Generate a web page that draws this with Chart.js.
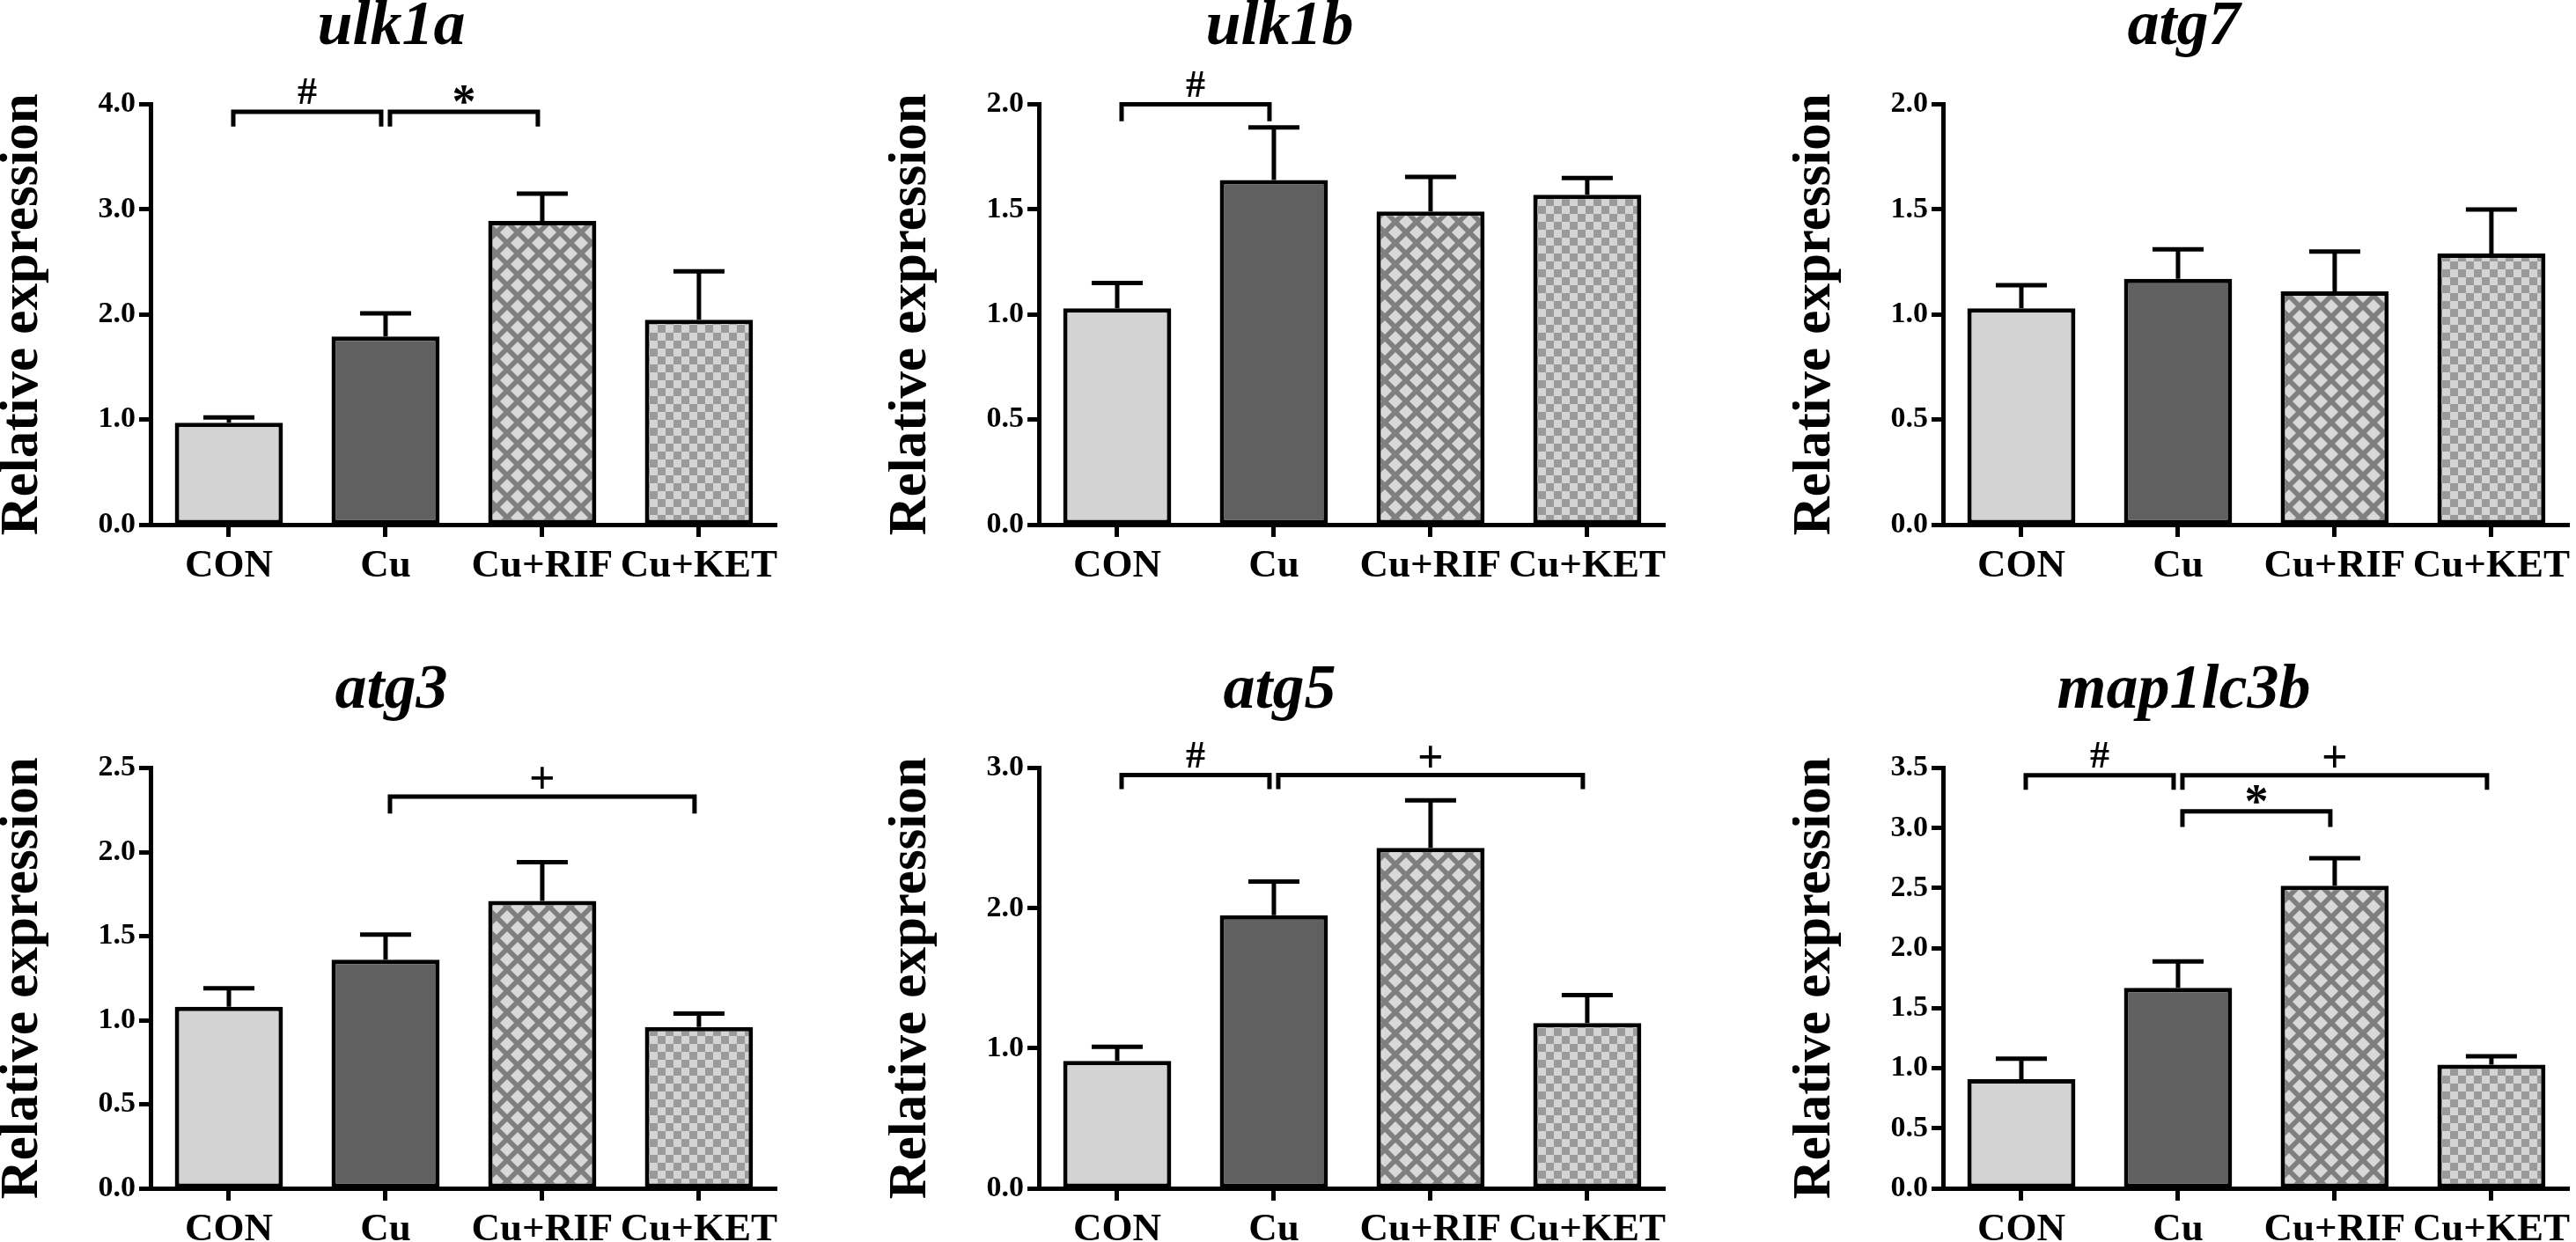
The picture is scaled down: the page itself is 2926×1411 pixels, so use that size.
<!DOCTYPE html>
<html lang="en">
<head>
  <meta charset="UTF-8">
  <title>Relative expression of autophagy genes</title>
  <script src="https://cdn.jsdelivr.net/npm/chart.js"></script>
  <style>
    html, body { margin: 0; padding: 0; background: #fff; overflow: hidden; }
    .panel { position: absolute; }
  </style>
</head>
<body>
  <div class="panel" style="left:0px;top:0px"><canvas id="c0" width="889" height="700"></canvas></div>
  <div class="panel" style="left:1009px;top:0px"><canvas id="c1" width="889" height="700"></canvas></div>
  <div class="panel" style="left:2036px;top:0px"><canvas id="c2" width="889" height="700"></canvas></div>
  <div class="panel" style="left:0px;top:754px"><canvas id="c3" width="889" height="700"></canvas></div>
  <div class="panel" style="left:1009px;top:754px"><canvas id="c4" width="889" height="700"></canvas></div>
  <div class="panel" style="left:2036px;top:754px"><canvas id="c5" width="889" height="700"></canvas></div>

  <script>
    // groups on the x axis
    const groups = ['CON', 'Cu', 'Cu+RIF', 'Cu+KET'];

    // mean and SEM per gene
    const ulk1aMean = [0.97, 1.79, 2.89, 1.95];
    const ulk1aSem  = [0.05, 0.22, 0.26, 0.46];
    const ulk1bMean = [1.03, 1.64, 1.49, 1.57];
    const ulk1bSem  = [0.12, 0.25, 0.165, 0.08];
    const atg7Mean  = [1.03, 1.17, 1.11, 1.29];
    const atg7Sem   = [0.11, 0.14, 0.19, 0.21];
    const atg3Mean  = [1.08, 1.36, 1.71, 0.96];
    const atg3Sem   = [0.11, 0.15, 0.23, 0.08];
    const atg5Mean  = [0.91, 1.95, 2.43, 1.18];
    const atg5Sem   = [0.10, 0.24, 0.34, 0.20];
    const lc3bMean  = [0.91, 1.67, 2.52, 1.03];
    const lc3bSem   = [0.17, 0.22, 0.23, 0.07];

    // y axis ranges
    const yMax  = [4.0, 2.0, 2.0, 2.5, 3.0, 3.5];
    const yStep = [1.0, 0.5, 0.5, 0.5, 1.0, 0.5];

    // significance brackets: [from group, to group, bracket level, leg end, mark]
    const ulk1aSig = [[0, 1, 3.93, 3.79, '#'], [1, 2, 3.93, 3.79, '*']];
    const ulk1bSig = [[0, 1, 2.0, 1.92, '#']];
    const atg7Sig  = [];
    const atg3Sig  = [[1, 3, 2.33, 2.23, '+']];
    const atg5Sig  = [[0, 1, 2.95, 2.85, '#'], [1, 3, 2.95, 2.85, '+']];
    const lc3bSig  = [[0, 1, 3.44, 3.32, '#'], [1, 3, 3.44, 3.32, '+'], [1, 2, 3.14, 3.01, '*']];

    const serif = "'Liberation Serif', 'Times New Roman', serif";
    const markSize = { '#': 44, '*': 54, '+': 52 };

    // diamond lattice fill for Cu+RIF
    function diamondFill() {
      let c = document.createElement('canvas');
      c.width = 24; c.height = 24;
      let g = c.getContext('2d');
      g.fillStyle = '#7f7f7f';
      g.fillRect(0, 0, 24, 24);
      g.fillStyle = '#d8d8d8';
      [[0, 0], [24, 0], [0, 24], [24, 24], [12, 12]].forEach(function (p) {
        g.beginPath();
        g.moveTo(p[0], p[1] - 8);
        g.lineTo(p[0] + 8, p[1]);
        g.lineTo(p[0], p[1] + 8);
        g.lineTo(p[0] - 8, p[1]);
        g.closePath();
        g.fill();
      });
      return g.createPattern(c, 'repeat');
    }

    // checkerboard fill for Cu+KET
    function checkerFill() {
      let c = document.createElement('canvas');
      c.width = 18; c.height = 18;
      let g = c.getContext('2d');
      g.fillStyle = '#d4d4d4';
      g.fillRect(0, 0, 18, 18);
      g.fillStyle = '#9a9a9a';
      g.fillRect(0, 0, 9, 9);
      g.fillRect(9, 9, 9, 9);
      return g.createPattern(c, 'repeat');
    }

    const fills = ['#d3d3d3', '#606060', diamondFill(), checkerFill()];

    function makeChart(id, name, mean, sem, max, step, sig) {
      // upper error bars with caps
      let errorBars = {
        id: 'errorBars',
        afterDatasetsDraw(chart) {
          let ctx = chart.ctx;
          let y = chart.scales.y;
          ctx.save();
          ctx.strokeStyle = '#000';
          ctx.lineWidth = 5;
          chart.getDatasetMeta(0).data.forEach(function (bar, i) {
            let top = y.getPixelForValue(mean[i] + sem[i]);
            ctx.beginPath();
            ctx.moveTo(bar.x, bar.y);
            ctx.lineTo(bar.x, top);
            ctx.moveTo(bar.x - 29, top);
            ctx.lineTo(bar.x + 29, top);
            ctx.stroke();
          });
          ctx.restore();
        }
      };

      // significance brackets and marks
      let brackets = {
        id: 'brackets',
        afterDraw(chart) {
          let ctx = chart.ctx;
          let x = chart.scales.x, y = chart.scales.y;
          ctx.save();
          ctx.strokeStyle = '#000';
          ctx.fillStyle = '#000';
          ctx.lineWidth = 5;
          ctx.textAlign = 'center';
          ctx.textBaseline = 'alphabetic';
          sig.forEach(function (s) {
            let x1 = x.getPixelForValue(s[0]) + 5;
            let x2 = x.getPixelForValue(s[1]) - 5;
            let yt = y.getPixelForValue(s[2]);
            let yl = y.getPixelForValue(s[3]);
            ctx.beginPath();
            ctx.moveTo(x1, yl);
            ctx.lineTo(x1, yt);
            ctx.lineTo(x2, yt);
            ctx.lineTo(x2, yl);
            ctx.stroke();
            ctx.font = 'bold ' + markSize[s[4]] + 'px ' + serif;
            let m = ctx.measureText(s[4]);
            ctx.fillText(s[4], (x1 + x2) / 2, yt - 9 - m.actualBoundingBoxDescent);
          });
          ctx.restore();
        }
      };

      return new Chart(document.getElementById(id), {
        type: 'bar',
        data: {
          labels: groups,
          datasets: [{
            data: mean,
            backgroundColor: fills,
            borderColor: '#000',
            borderWidth: 5,
            borderSkipped: false,
            barPercentage: 0.69,
            categoryPercentage: 1.0
          }]
        },
        options: {
          responsive: false,
          animation: false,
          devicePixelRatio: 1,
          layout: { padding: 0 },
          plugins: {
            legend: { display: false },
            tooltip: { enabled: false },
            title: {
              display: true,
              text: name,
              color: '#000',
              font: { family: serif, size: 72, weight: 'bold', style: 'italic', lineHeight: 0.8 },
              padding: { top: 3, bottom: 58 }
            }
          },
          scales: {
            x: {
              offset: true,
              grid: { offset: false, drawOnChartArea: false, drawTicks: true, tickLength: 14, tickWidth: 5, tickColor: '#000' },
              border: { display: true, color: '#000', width: 5 },
              ticks: { color: '#000', font: { family: serif, size: 45, weight: 'bold' }, padding: 6, maxRotation: 0, autoSkip: false },
              afterFit: function (s) { s.height = 104; }
            },
            y: {
              min: 0,
              max: max,
              grid: { drawOnChartArea: false, drawTicks: true, tickLength: 13, tickWidth: 5, tickColor: '#000' },
              border: { display: true, color: '#000', width: 5 },
              ticks: {
                stepSize: step,
                color: '#000',
                font: { family: serif, size: 34, weight: 'bold' },
                padding: 4,
                callback: function (v) { return v.toFixed(1); }
              },
              title: {
                display: true,
                text: 'Relative expression',
                color: '#000',
                font: { family: serif, size: 61, weight: 'bold', lineHeight: 0.85 },
                padding: 0
              },
              afterFit: function (s) { s.width = 171; }
            }
          }
        },
        plugins: [errorBars, brackets]
      });
    }

    makeChart('c0', 'ulk1a', ulk1aMean, ulk1aSem, yMax[0], yStep[0], ulk1aSig);
    makeChart('c1', 'ulk1b', ulk1bMean, ulk1bSem, yMax[1], yStep[1], ulk1bSig);
    makeChart('c2', 'atg7', atg7Mean, atg7Sem, yMax[2], yStep[2], atg7Sig);
    makeChart('c3', 'atg3', atg3Mean, atg3Sem, yMax[3], yStep[3], atg3Sig);
    makeChart('c4', 'atg5', atg5Mean, atg5Sem, yMax[4], yStep[4], atg5Sig);
    makeChart('c5', 'map1lc3b', lc3bMean, lc3bSem, yMax[5], yStep[5], lc3bSig);
  </script>
</body>
</html>
